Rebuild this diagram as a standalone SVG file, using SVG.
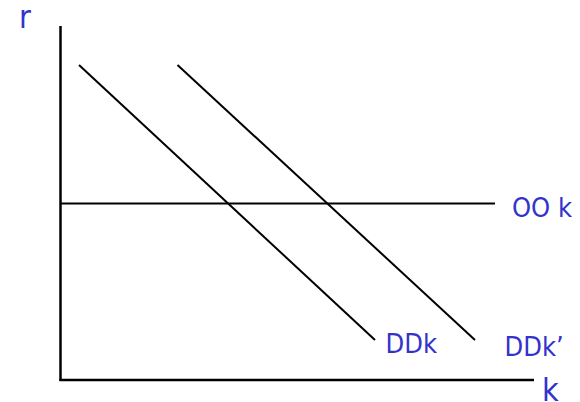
<svg xmlns="http://www.w3.org/2000/svg" width="580" height="402" viewBox="0 0 580 402">
<style>
.lbl{font-family:"DejaVu Sans Condensed","DejaVu Sans",sans-serif;fill:#3333cc;}
.ax{stroke:#000;stroke-width:2.5;fill:none;}
.ln{stroke:#000;stroke-width:2;fill:none;}
</style>
<rect width="580" height="402" fill="#fff"/>
<g id="connectors">
<line class="ax" x1="60.5" y1="26" x2="60.5" y2="381"/>
<line class="ax" x1="59.5" y1="380" x2="534" y2="380"/>
<line class="ln" x1="61" y1="203.5" x2="495" y2="203.5"/>
<line class="ln" x1="79" y1="65" x2="375" y2="340"/>
<line class="ln" x1="177.5" y1="65" x2="475" y2="340"/>
</g>
<g id="label-r"><text class="lbl" x="19" y="28" font-size="32">r</text></g>
<g id="label-k"><text class="lbl" x="542" y="401" font-size="32">k</text></g>
<g id="label-OOk"><text class="lbl" x="512" y="217" font-size="27">OO k</text></g>
<g id="label-DDk"><text class="lbl" x="385.5" y="353" font-size="27">DDk</text></g>
<g id="label-DDk2"><text class="lbl" x="504.5" y="356" font-size="27">DDk’</text></g>
</svg>
